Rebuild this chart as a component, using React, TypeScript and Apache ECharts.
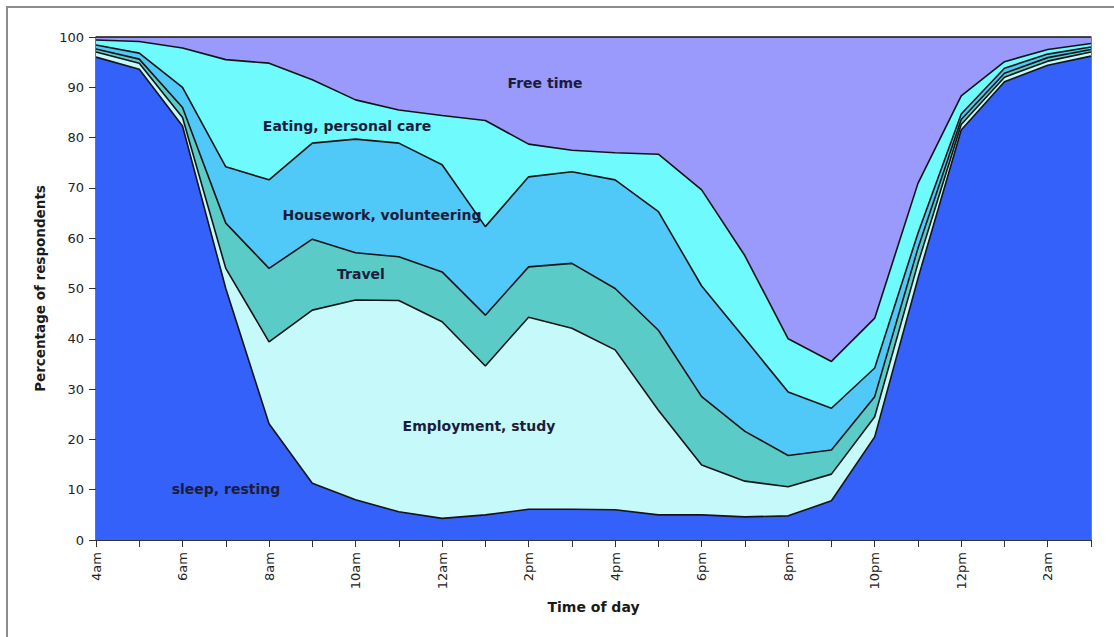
import React, { useEffect, useRef } from "react";
import * as echarts from "echarts";

const hours = [
  "4am", "5am", "6am", "7am", "8am", "9am", "10am", "11am", "12am", "1pm", "2pm", "3pm",
  "4pm", "5pm", "6pm", "7pm", "8pm", "9pm", "10pm", "11pm", "12pm", "1am", "2am", "3am",
];

const sleepResting = [96, 93.6, 82.3, 50, 23.1, 11.3, 8.0, 5.6, 4.3, 5.0, 6.1, 6.1, 6.0, 5.0, 5.0, 4.6, 4.8, 7.8, 20.5, 52, 81.5, 91.1, 94.4, 96.2];
const employmentStudy = [1.0, 1.2, 1.7, 4, 16.3, 34.4, 39.7, 42.0, 39.1, 29.6, 38.2, 36.0, 31.8, 20.8, 9.9, 7.1, 5.8, 5.3, 4.0, 3.0, 1.1, 0.9, 0.8, 0.8];
const travel = [0.6, 0.8, 2.0, 9, 14.6, 14.1, 9.4, 8.7, 9.9, 10.1, 10.0, 12.9, 12.2, 15.9, 13.6, 9.9, 6.2, 4.8, 4.0, 3.0, 1.0, 0.8, 0.7, 0.5];
const houseworkVolunteering = [0.8, 1.2, 4.0, 11.2, 17.6, 19.1, 22.6, 22.6, 21.3, 17.6, 17.9, 18.2, 21.6, 23.6, 22.0, 18.4, 12.6, 8.3, 5.7, 3.0, 1.1, 1.0, 0.7, 0.5];
const eatingPersonalCare = [1.0, 2.3, 7.8, 21.3, 23.2, 12.6, 7.8, 6.6, 9.8, 21.1, 6.5, 4.3, 5.4, 11.4, 19.1, 16.5, 10.6, 9.3, 9.9, 9.9, 3.6, 1.3, 0.9, 0.7];
const freeTime = [0.6, 0.9, 2.2, 4.5, 5.2, 8.5, 12.5, 14.5, 15.6, 16.6, 21.3, 22.5, 23.0, 23.3, 30.4, 43.5, 60, 64.5, 55.9, 29.1, 11.7, 4.9, 2.5, 1.3];

const layers = [
  { name: "sleep, resting", data: sleepResting, color: "#3461FA" },
  { name: "Employment, study", data: employmentStudy, color: "#C6FAFA" },
  { name: "Travel", data: travel, color: "#5BCBC8" },
  { name: "Housework, volunteering", data: houseworkVolunteering, color: "#50C8F8" },
  { name: "Eating, personal care", data: eatingPersonalCare, color: "#6FFAFD" },
  { name: "Free time", data: freeTime, color: "#9A99FC" },
];

const FONT = "'DejaVu Sans', Verdana, sans-serif";

const areaLabels = [
  { text: "Free time", x: 545, y: 83 },
  { text: "Eating, personal care", x: 347, y: 126 },
  { text: "Housework, volunteering", x: 382, y: 215 },
  { text: "Travel", x: 361, y: 274 },
  { text: "Employment, study", x: 479, y: 426 },
  { text: "sleep, resting", x: 226, y: 489 },
];

export default function App() {
  const ref = useRef<HTMLDivElement>(null);
  useEffect(() => {
    if (!ref.current) return;
    const chart = echarts.init(ref.current, undefined, { renderer: "svg" });
    chart.setOption({
      animation: false,
      backgroundColor: "#ffffff",
      grid: {
        left: 96,
        top: 37,
        width: 995,
        height: 503,
        show: true,
        borderColor: "#2a2a2a",
        borderWidth: 1.2,
        containLabel: false,
      },
      xAxis: {
        type: "category",
        data: hours,
        boundaryGap: false,
        name: "Time of day",
        nameLocation: "middle",
        nameGap: 60,
        nameTextStyle: { fontFamily: FONT, fontWeight: "bold", fontSize: 14, color: "#1a1a1a" },
        axisLine: { show: true, lineStyle: { color: "#333", width: 1.2 } },
        axisTick: { show: true, interval: 0, length: 7, lineStyle: { color: "#333" } },
        axisLabel: {
          interval: 1,
          rotate: 90,
          margin: 12,
          fontFamily: FONT,
          fontSize: 13,
          color: "#222",
        },
        splitLine: { show: false },
      },
      yAxis: {
        type: "value",
        min: 0,
        max: 100,
        interval: 10,
        name: "Percentage of respondents",
        nameLocation: "middle",
        nameGap: 49,
        nameRotate: 90,
        nameTextStyle: { fontFamily: FONT, fontWeight: "bold", fontSize: 13.5, color: "#1a1a1a" },
        axisLine: { show: true, lineStyle: { color: "#333", width: 1.2 } },
        axisTick: { show: true, length: 7, lineStyle: { color: "#333" } },
        axisLabel: { margin: 12, fontFamily: FONT, fontSize: 13, color: "#222" },
        splitLine: { show: false },
      },
      series: layers.map((l) => ({
        name: l.name,
        type: "line",
        stack: "total",
        data: l.data,
        symbol: "none",
        smooth: false,
        lineStyle: { color: "#141414", width: 1.6 },
        areaStyle: { color: l.color, opacity: 1 },
      })),
      graphic: [
        {
          type: "rect",
          shape: { x: 7, y: 7, width: 1120, height: 640 },
          style: { fill: "none", stroke: "#8c8c8c", lineWidth: 2 },
          silent: true,
        },
        ...areaLabels.map((a) => ({
          type: "text",
          x: a.x,
          y: a.y,
          z: 100,
          style: {
            text: a.text,
            fontFamily: FONT,
            fontWeight: "bold",
            fontSize: 14,
            fill: "#1c1c3c",
            textAlign: "center",
            textVerticalAlign: "middle",
          },
        })),
      ],
    });
    return () => chart.dispose();
  }, []);
  return (
    <div
      ref={ref}
      style={{ position: "fixed", left: 0, top: 0, width: 1114, height: 637, background: "#fff" }}
    />
  );
}
